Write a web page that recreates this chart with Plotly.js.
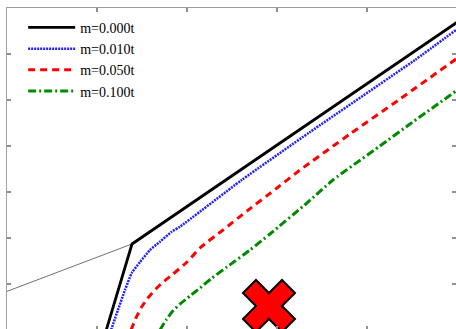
<!DOCTYPE html>
<html>
<head>
<meta charset="utf-8">
<script src="https://cdn.plot.ly/plotly-3.0.1.min.js"></script>
<style>
html, body { margin: 0; padding: 0; overflow: hidden; background: #fff; }
#chart { width: 460px; height: 340px; }
</style>
</head>
<body>
<div id="chart"></div>
<script>
// Series names
const seriesNames = ["m=0.000t", "m=0.010t", "m=0.050t", "m=0.100t"];

// m = 0.000t (piecewise linear)
const x0 = [1.10, 1.389, 5.0];
const y0 = [-0.02, 1.870, 6.689];

// thin gray reference line
const xRef = [0.0, 1.389];
const yRef = [0.84, 1.870];

// m = 0.010t
const x1 = [1.156, 1.233, 1.311, 1.386, 1.478, 1.589, 1.700, 1.830, 1.922, 2.608, 3.367, 4.533, 5.0];
const y1 = [0.0, 0.435, 0.870, 1.239, 1.478, 1.739, 1.920, 2.137, 2.246, 3.261, 4.304, 5.870, 6.537];

// m = 0.050t
const x2 = [1.378, 1.433, 1.489, 1.556, 1.633, 1.722, 1.833, 2.0, 2.144, 2.4, 2.667, 3.0, 3.256, 3.811, 4.367, 5.0];
const y2 = [0.0, 0.261, 0.478, 0.674, 0.848, 1.022, 1.196, 1.478, 1.783, 2.174, 2.587, 3.087, 3.478, 4.261, 5.022, 5.905];

// m = 0.100t
const x3 = [1.7, 1.767, 1.833, 1.922, 2.033, 2.144, 2.278, 2.444, 2.7, 2.922, 3.333, 3.622, 4.144, 4.478, 5.0];
const y3 = [0.0, 0.217, 0.391, 0.565, 0.739, 0.913, 1.130, 1.370, 1.739, 2.087, 2.761, 3.261, 4.0, 4.478, 5.21];

// marker point
const xMark = [2.911];
const yMark = [0.522];

const traces = [
  { x: xRef, y: yRef, mode: "lines", line: { color: "#707070", width: 1 }, showlegend: false, hoverinfo: "skip" },
  { x: x0, y: y0, mode: "lines", name: seriesNames[0], line: { color: "#000000", width: 2.8 } },
  { x: x1, y: y1, mode: "lines", name: seriesNames[1], line: { color: "#2020ff", width: 2.5, dash: "2px,1px", shape: "spline", smoothing: 0.5 } },
  { x: x2, y: y2, mode: "lines", name: seriesNames[2], line: { color: "#ff0000", width: 3, dash: "7px,5px", shape: "spline", smoothing: 0.5 } },
  { x: x3, y: y3, mode: "lines", name: seriesNames[3], line: { color: "#008a00", width: 3, dash: "8px,3px,2px,3px", shape: "spline", smoothing: 0.5 } },
  { x: xMark, y: yMark, mode: "markers", showlegend: false,
    marker: { symbol: "x", size: 46, color: "#ff0000", line: { color: "#000000", width: 2 } } }
];

const axisCommon = {
  showgrid: false, zeroline: false, showticklabels: false,
  showline: true, linecolor: "#a0a0a0", linewidth: 1.5,
  ticks: "inside", ticklen: 4, tickcolor: "#909090", tickwidth: 1.2,
  mirror: "ticks", dtick: 1, tick0: 0
};

const layout = {
  width: 460, height: 340,
  margin: { l: 7, r: 4, t: 8, b: 10, pad: 0 },
  paper_bgcolor: "#ffffff", plot_bgcolor: "#ffffff",
  xaxis: Object.assign({}, axisCommon, { range: [0, 4.989] }),
  yaxis: Object.assign({}, axisCommon, { range: [0, 7] }),
  showlegend: true,
  legend: {
    x: 0.036, y: 0.988, xanchor: "left", yanchor: "top",
    bgcolor: "rgba(0,0,0,0)", borderwidth: 0,
    itemwidth: 47,
    font: { family: "Liberation Serif, Times New Roman, serif", size: 14, color: "#000" }
  }
};

Plotly.newPlot("chart", traces, layout, { displayModeBar: false, staticPlot: true });
</script>
</body>
</html>
